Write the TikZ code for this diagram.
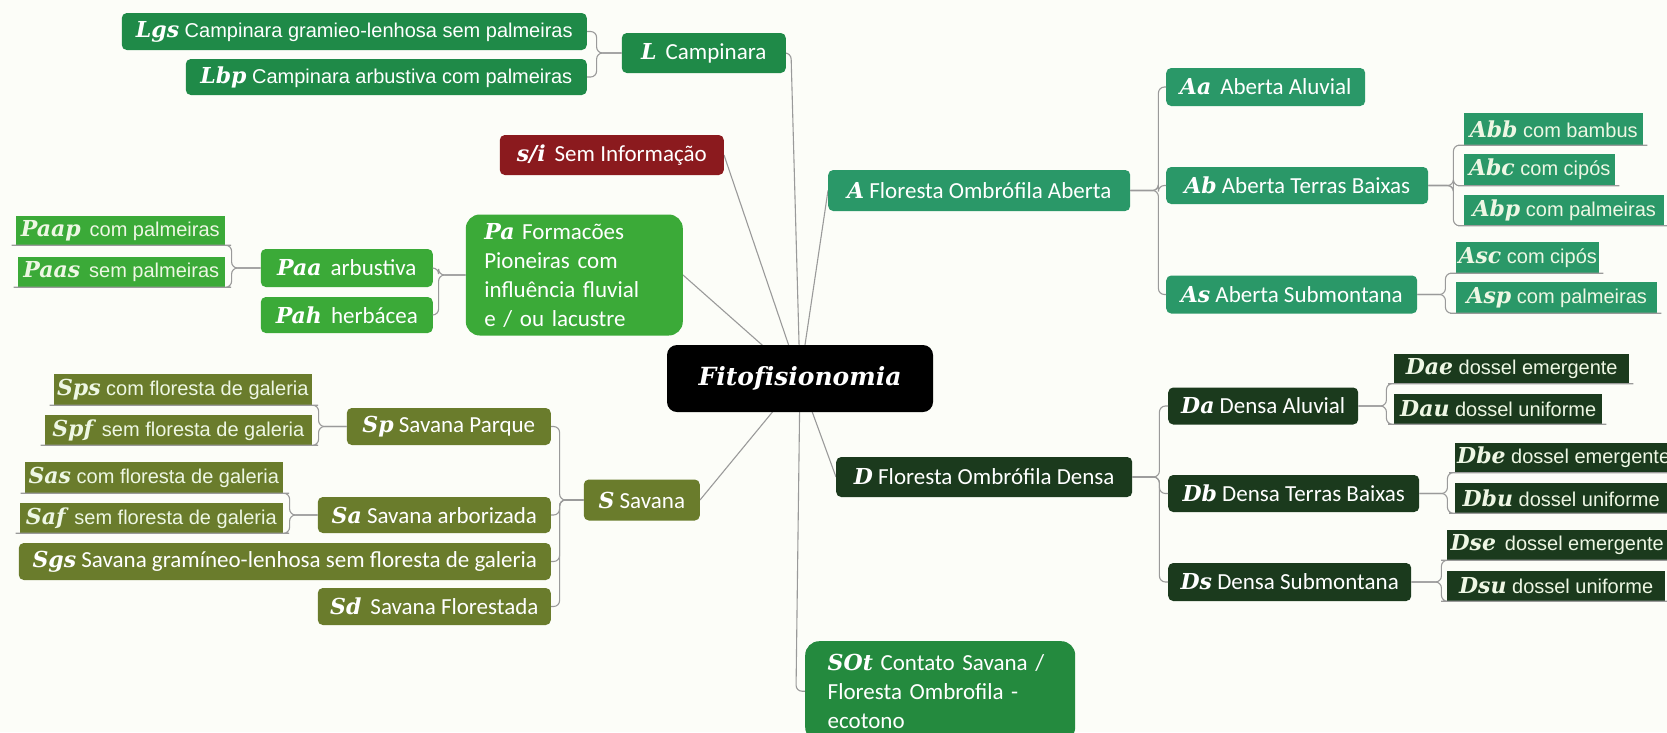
\documentclass[tikz,border=0pt]{standalone}
\usepackage{fontspec}
\setmainfont{Carlito}
\newfontfamily\codefont{DejaVu Serif}[Ligatures=NoCommon]
\newfontfamily\narrowfont{Liberation Sans}
\usetikzlibrary{positioning}

\definecolor{paper}{HTML}{FCFDF8}
\definecolor{campgreen}{HTML}{1F8A48}
\definecolor{nodatared}{HTML}{8B1A1E}
\definecolor{piogreen}{HTML}{3BAA38}
\definecolor{savolive}{HTML}{6A7C2C}
\definecolor{abgreen}{HTML}{2A9868}
\definecolor{densegreen}{HTML}{1B3A1D}
\definecolor{sotgreen}{HTML}{248A3E}
\definecolor{linkgray}{HTML}{9A9A9A}
\definecolor{leaftext}{HTML}{EEF7E4}

\newcommand{\lblsize}{\fontsize{23}{29}\selectfont}
\newcommand{\leafsize}{\fontsize{20}{24}\selectfont}
\newcommand{\cd}[1]{{\codefont\bfseries\itshape\fontsize{22}{26}\selectfont #1}}

\pgfdeclarelayer{paperlayer}
\pgfdeclarelayer{links}
\pgfsetlayers{paperlayer,links,main}

\tikzset{
	topic/.style={rounded corners=5pt, fill=#1, text=white, font=\lblsize, inner xsep=3pt, inner ysep=0pt},
	twig/.style={fill=#1, text=leaftext, font=\narrowfont\leafsize, inner xsep=2pt, inner ysep=0pt},
	link/.style={draw=linkgray, line width=1.1pt, rounded corners=6pt},
	rgt/.style={anchor=west},
	lft/.style={anchor=east},
	sz/.style 2 args={minimum width=#1, minimum height=#2},
}

\begin{document}
\begin{tikzpicture}[x=1pt,y=-1pt]
	\begin{pgfonlayer}{paperlayer}
	\fill[paper] (0,0) rectangle (1667,732);
	\end{pgfonlayer}
	\useasboundingbox (0,0) rectangle (1667,732);
	\clip (0,0) rectangle (1667,732);

	\node[fill=black, rounded corners=10pt, sz={266}{67}, text=white, font=\codefont\bfseries\itshape\fontsize{25}{30}\selectfont] (fito) at (800,378.5) {Fitofisionomia};

	\node[topic=campgreen, lft, sz={164}{40}] (L) at (786,53) {\cd{L}\, Campinara};
	\node[topic=campgreen, font=\narrowfont\leafsize, lft, sz={465}{37}] (Lgs) at (587,31.5) {\cd{Lgs} Campinara gramieo-lenhosa sem palmeiras};
	\node[topic=campgreen, font=\narrowfont\leafsize, lft, sz={401}{36}] (Lbp) at (587,77) {\cd{Lbp} Campinara arbustiva com palmeiras};

	\node[topic=nodatared, lft, sz={224}{40}] (si) at (724,155) {\cd{s/i}\, Sem Informação};

	\node[topic=piogreen, lft, sz={217}{121}, text width=180pt, align=left, rounded corners=14pt] (Pa) at (683,275) {\cd{Pa} Formacões\\Pioneiras com\\influência fluvial\\e / ou lacustre};
	\node[topic=piogreen, lft, sz={172}{38}] (Paa) at (433,268) {\cd{Paa}\, arbustiva};
	\node[topic=piogreen, lft, sz={172}{36}] (Pah) at (433,315) {\cd{Pah}\, herbácea};
	\node[twig=piogreen, lft, sz={209}{29}] (Paap) at (225,230.5) {\cd{Paap}\, com palmeiras};
	\node[twig=piogreen, lft, sz={207}{30}] (Paas) at (225,272) {\cd{Paas}\, sem palmeiras};

	\node[topic=savolive, lft, sz={116}{41}] (S) at (700,500) {\cd{S} Savana};
	\node[topic=savolive, lft, sz={204}{37}] (Sp) at (551,426.5) {\cd{Sp} Savana Parque};
	\node[topic=savolive, lft, sz={233}{36}] (Sa) at (551,515) {\cd{Sa} Savana arborizada};
	\node[topic=savolive, lft, sz={532}{37}] (Sgs) at (551,561.5) {\cd{Sgs} Savana gramíneo-lenhosa sem floresta de galeria};
	\node[topic=savolive, lft, sz={233}{37}] (Sd) at (551,606.5) {\cd{Sd}\, Savana Florestada};
	\node[twig=savolive, lft, sz={258}{31}] (Sps) at (312,389.5) {\cd{Sps} com floresta de galeria};
	\node[twig=savolive, lft, sz={267}{30}] (Spf) at (312,430) {\cd{Spf}\, sem floresta de galeria};
	\node[twig=savolive, lft, sz={258}{31}] (Sas) at (283,477.5) {\cd{Sas} com floresta de galeria};
	\node[twig=savolive, lft, sz={263}{30}] (Saf) at (283,518) {\cd{Saf}\, sem floresta de galeria};

	\node[topic=abgreen, rgt, sz={302}{41}] (A) at (828,190.5) {\cd{A} Floresta Ombrófila Aberta};
	\node[topic=abgreen, rgt, sz={199}{38}] (Aa) at (1166,87) {\cd{Aa}\, Aberta Aluvial};
	\node[topic=abgreen, rgt, sz={262}{37}] (Ab) at (1166,185.5) {\cd{Ab} Aberta Terras Baixas};
	\node[topic=abgreen, rgt, sz={251}{38}] (As) at (1166,294.5) {\cd{As} Aberta Submontana};
	\node[twig=abgreen, rgt, sz={179}{32}] (Abb) at (1464,129) {\cd{Abb} com bambus};
	\node[twig=abgreen, rgt, sz={151}{32}] (Abc) at (1464,169.5) {\cd{Abc} com cipós};
	\node[twig=abgreen, rgt, sz={200}{31}] (Abp) at (1464,210) {\cd{Abp} com palmeiras};
	\node[twig=abgreen, rgt, sz={143}{31}] (Asc) at (1456,257.5) {\cd{Asc} com cipós};
	\node[twig=abgreen, rgt, sz={201}{31}] (Asp) at (1456,297.5) {\cd{Asp} com palmeiras};

	\node[topic=densegreen, rgt, sz={296}{40}] (D) at (836,477) {\cd{D} Floresta Ombrófila Densa};
	\node[topic=densegreen, rgt, sz={190}{37}] (Da) at (1168,406) {\cd{Da} Densa Aluvial};
	\node[topic=densegreen, rgt, sz={251}{37}] (Db) at (1168,493.5) {\cd{Db} Densa Terras Baixas};
	\node[topic=densegreen, rgt, sz={243}{38}] (Ds) at (1168,582) {\cd{Ds} Densa Submontana};
	\node[twig=densegreen, rgt, sz={235}{30}] (Dae) at (1394,368.5) {\cd{Dae} dossel emergente};
	\node[twig=densegreen, rgt, sz={208}{30}] (Dau) at (1394,409) {\cd{Dau} dossel uniforme};
	\node[twig=densegreen, rgt, sz={212}{30}] (Dbe) at (1455,457.5) {\cd{Dbe} dossel emergente};
	\node[twig=densegreen, rgt, sz={212}{30}] (Dbu) at (1455,498) {\cd{Dbu} dossel uniforme};
	\node[twig=densegreen, rgt, sz={220}{30}] (Dse) at (1447,545) {\cd{Dse}\, dossel emergente};
	\node[twig=densegreen, rgt, sz={218}{30}] (Dsu) at (1447,586) {\cd{Dsu} dossel uniforme};

	\node[topic=sotgreen, anchor=north west, sz={270}{100}, text width=225pt, align=left, rounded corners=14pt] (SOt) at (805,641) {\cd{SOt} Contato Savana /\\Floresta Ombrofila -\\ecotono};

	\begin{pgfonlayer}{links}
	\draw[link] (fito.center) -- ([xshift=5pt]L.east) -- (L.east);
	\draw[link] (fito.center) -- (si.east);
	\draw[link] (fito.center) -- (Pa.east);
	\draw[link] (fito.center) -- (A.west);
	\draw[link] (fito.center) -- (S.east);
	\draw[link] (fito.center) -- (D.west);
	\draw[link] (fito.center) -- ([xshift=-9pt]SOt.west) -- (SOt.west);
	\end{pgfonlayer}

	\coordinate (bL) at ([xshift=-25pt]L.west);
	\coordinate (bPa) at ([xshift=-27pt]Pa.west);
	\coordinate (bPaa) at ([xshift=-29pt]Paa.west);
	\coordinate (bS) at ([xshift=-24pt]S.west);
	\coordinate (bSp) at ([xshift=-28pt]Sp.west);
	\coordinate (bSa) at ([xshift=-28pt]Sa.west);
	\coordinate (bA) at ([xshift=28pt]A.east);
	\coordinate (bAb) at ([xshift=25pt]Ab.east);
	\coordinate (bAs) at ([xshift=28pt]As.east);
	\coordinate (bD) at ([xshift=27pt]D.east);
	\coordinate (bDa) at ([xshift=28pt]Da.east);
	\coordinate (bDb) at ([xshift=28pt]Db.east);
	\coordinate (bDs) at ([xshift=30pt]Ds.east);

	\foreach \c in {Lgs,Lbp} \draw[link] (L.west) -- (bL) |- (\c.east);
	\foreach \c in {Paa,Pah} \draw[link] (Pa.west) -- (bPa) |- (\c.east);
	\foreach \c in {Sp,Sa,Sgs,Sd} \draw[link] (S.west) -- (bS) |- (\c.east);
	\foreach \c in {Aa,Ab,As} \draw[link] (A.east) -- (bA) |- (\c.west);
	\foreach \c in {Da,Db,Ds} \draw[link] (D.east) -- (bD) |- (\c.west);

	\foreach \c in {Paap,Paas} \draw[link] (Paa.west) -- (bPaa) |- (\c.south east) -- ([xshift=-4pt]\c.south west);
	\foreach \c in {Sps,Spf} \draw[link] (Sp.west) -- (bSp) |- (\c.south east) -- ([xshift=-4pt]\c.south west);
	\foreach \c in {Sas,Saf} \draw[link] (Sa.west) -- (bSa) |- (\c.south east) -- ([xshift=-4pt]\c.south west);
	\foreach \c in {Abb,Abc,Abp} \draw[link] (Ab.east) -- (bAb) |- (\c.south west) -- ([xshift=4pt]\c.south east);
	\foreach \c in {Asc,Asp} \draw[link] (As.east) -- (bAs) |- (\c.south west) -- ([xshift=4pt]\c.south east);
	\foreach \c in {Dae,Dau} \draw[link] (Da.east) -- (bDa) |- (\c.south west) -- ([xshift=4pt]\c.south east);
	\foreach \c in {Dbe,Dbu} \draw[link] (Db.east) -- (bDb) |- (\c.south west) -- ([xshift=4pt]\c.south east);
	\foreach \c in {Dse,Dsu} \draw[link] (Ds.east) -- (bDs) |- (\c.south west) -- ([xshift=4pt]\c.south east);
\end{tikzpicture}
\end{document}
